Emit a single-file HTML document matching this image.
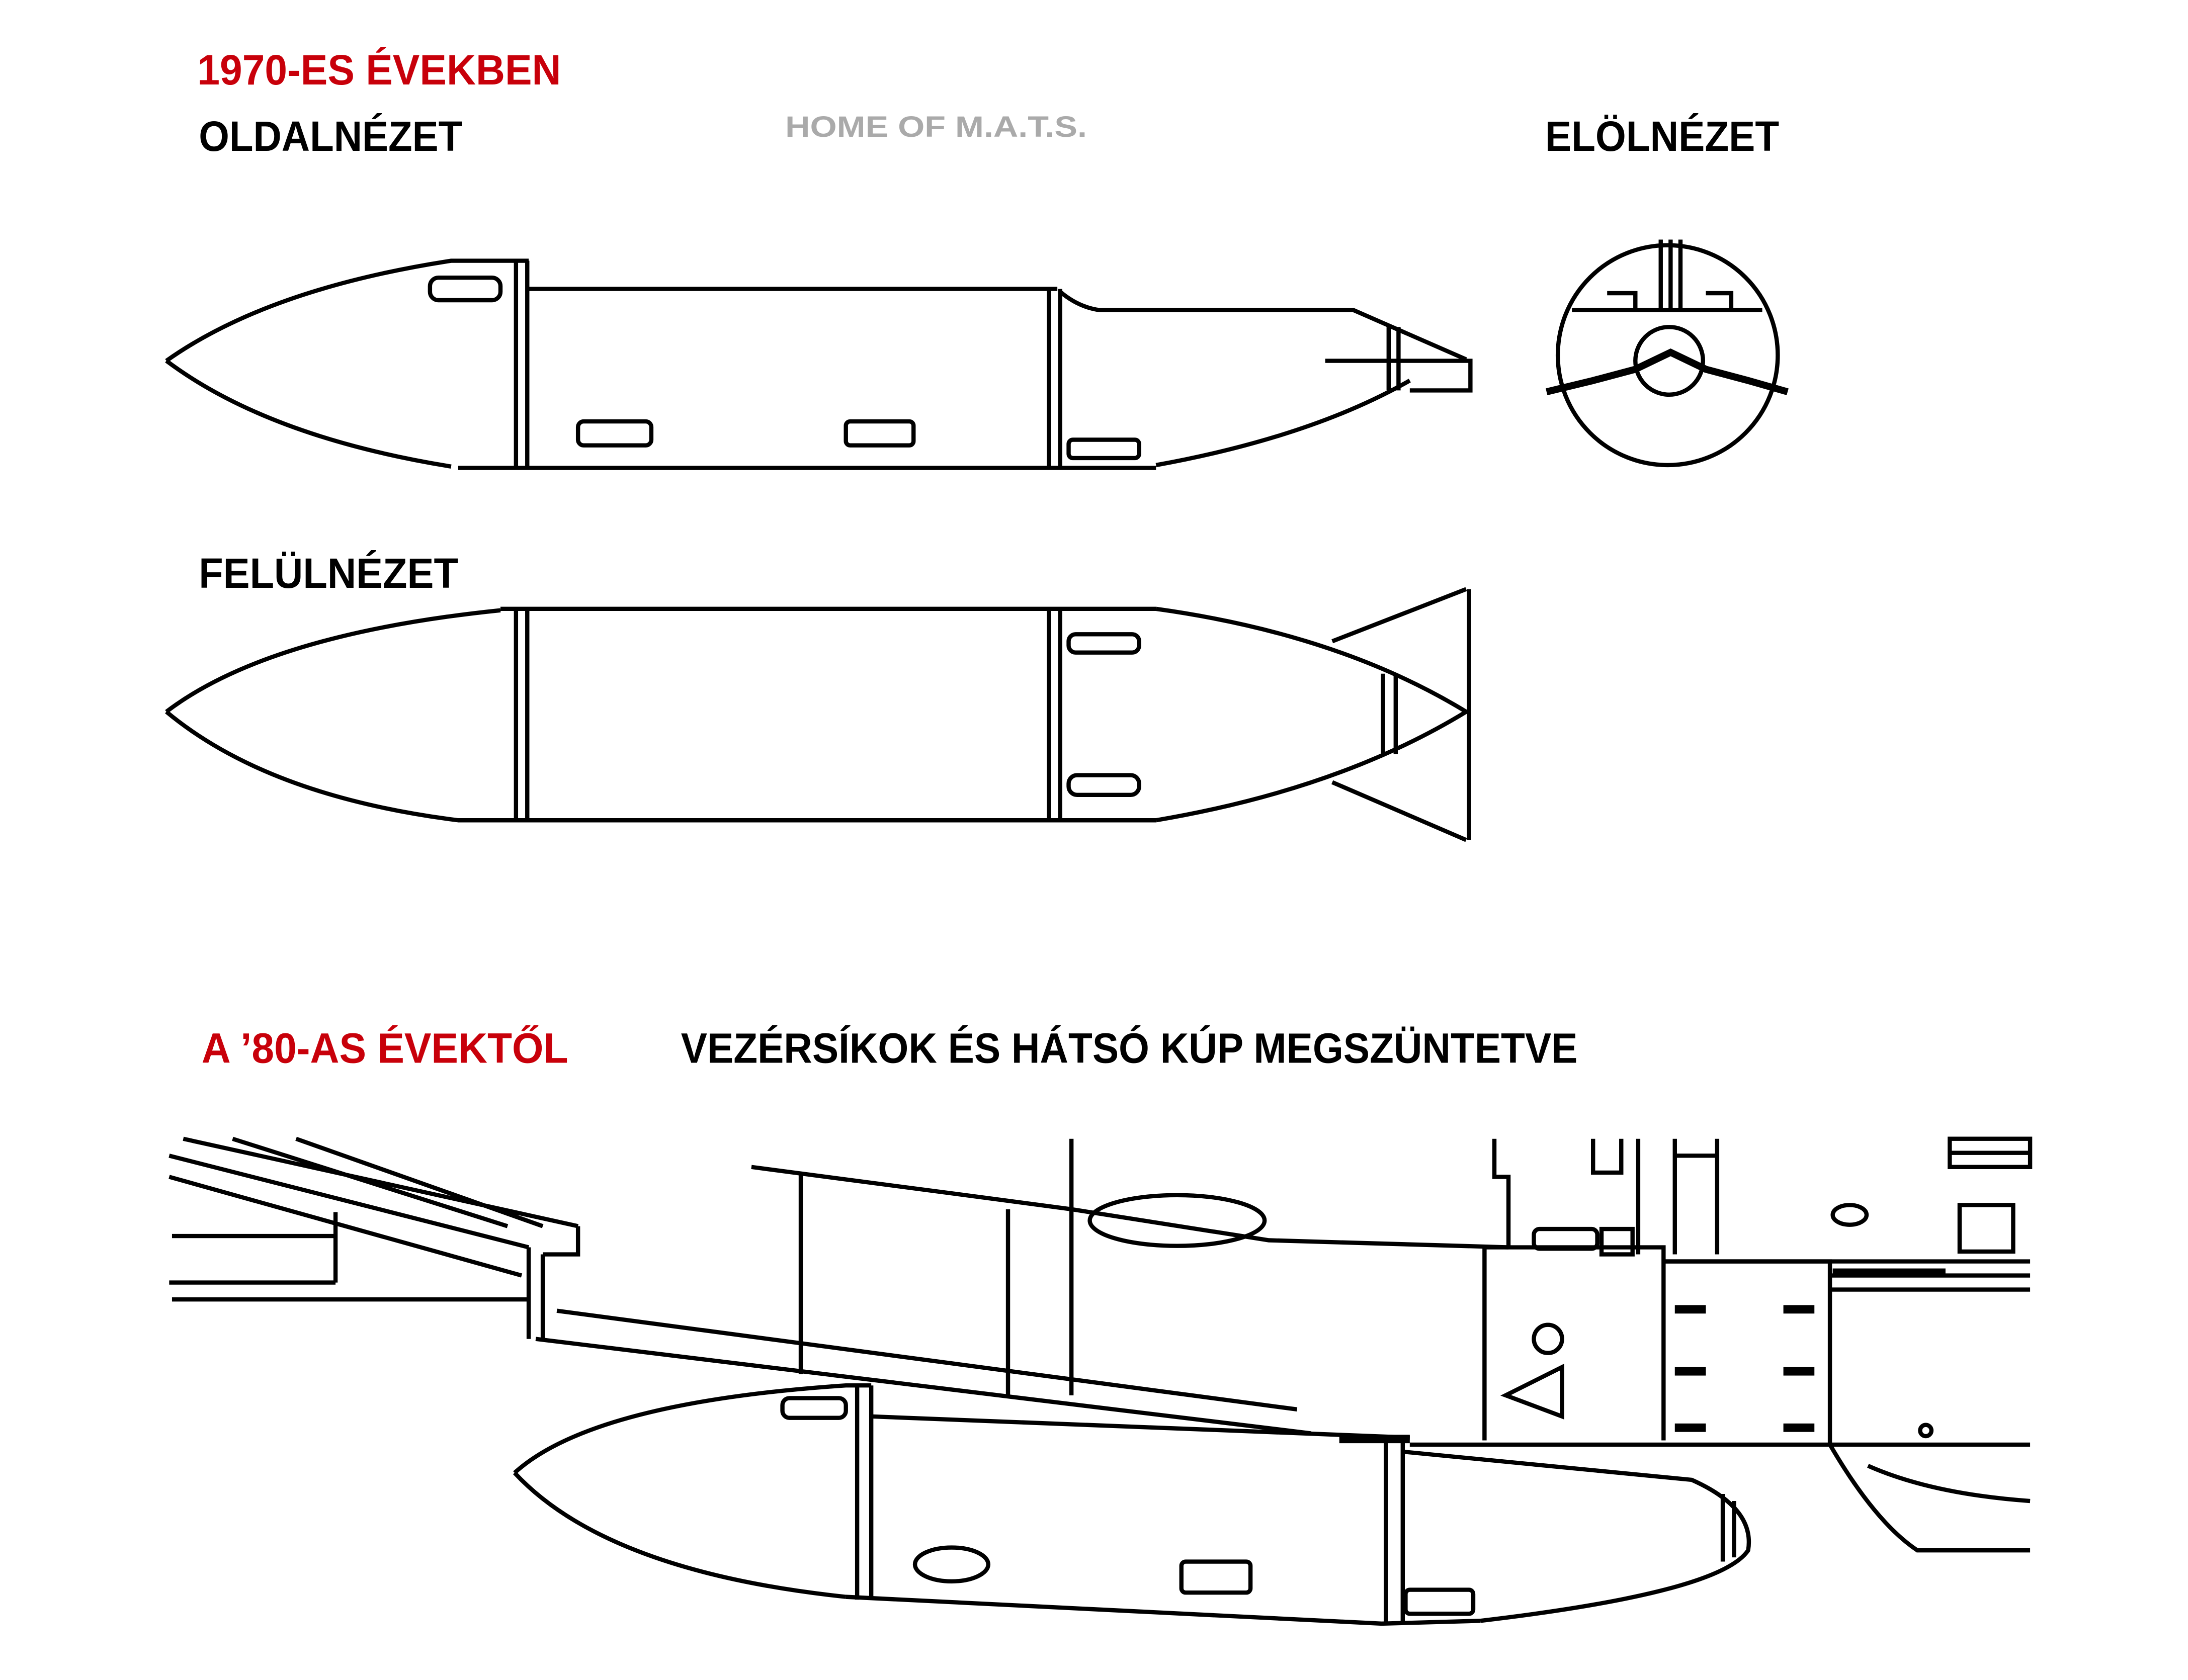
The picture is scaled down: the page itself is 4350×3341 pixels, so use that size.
<!DOCTYPE html>
<html><head><meta charset="utf-8"><style>
html,body{margin:0;padding:0;background:#fff;}
svg{display:block;}
text{font-family:"Liberation Sans",sans-serif;font-weight:bold;}
</style></head><body>
<svg width="4350" height="3341" viewBox="0 0 1552 1192" xmlns="http://www.w3.org/2000/svg">
<rect width="1552" height="1192" fill="#fff"/>
<g font-size="30">
<text x="140" y="60" fill="#c8000a" textLength="258" lengthAdjust="spacingAndGlyphs">1970-ES ÉVEKBEN</text>
<text x="141" y="107" fill="#000" textLength="187" lengthAdjust="spacingAndGlyphs">OLDALNÉZET</text>
<text x="1096" y="107" fill="#000" textLength="166" lengthAdjust="spacingAndGlyphs">ELÖLNÉZET</text>
<text x="141" y="417" fill="#000" textLength="184" lengthAdjust="spacingAndGlyphs">FELÜLNÉZET</text>
<text x="143" y="754" fill="#c8000a" textLength="260" lengthAdjust="spacingAndGlyphs">A ’80-AS ÉVEKTŐL</text>
<text x="483" y="754" fill="#000" textLength="636" lengthAdjust="spacingAndGlyphs">VEZÉRSÍKOK ÉS HÁTSÓ KÚP MEGSZÜNTETVE</text>
</g>
<text x="557" y="97" font-size="21" fill="#aaa" textLength="214" lengthAdjust="spacingAndGlyphs">HOME OF M.A.T.S.</text>

<g fill="none" stroke="#000" stroke-width="3">
<!-- side view -->
<path d="M118,256 Q190,205 320,185 L375,185"/>
<path d="M118,256 Q190,310 320,331"/>
<path d="M325,332 L820,332"/>
<path d="M366,185 V332 M374,185 V332"/>
<path d="M375,205 H750"/>
<path d="M744,205 V332 M752,205 V332"/>
<path d="M752,207 Q765,218 780,220 H960 L1040,255"/>
<path d="M820,330 Q930,310 1000,270"/>
<path d="M940,256 H1043 V277 H1000 M985,232 V277 M992,232 V277"/>
<rect x="410" y="299" width="52" height="17" rx="4"/>
<rect x="600" y="299" width="48" height="17" rx="3"/>
<rect x="758" y="312" width="50" height="13" rx="3"/>
<rect x="305" y="197" width="50" height="16" rx="6"/>
<!-- front view -->
<circle cx="1183" cy="252" r="78"/>
<path d="M1178,170 V220 M1185,170 V220 M1192,170 V220 M1115,220 H1250"/>
<path d="M1140,208 H1160 V220 M1210,208 H1228 V220"/>
<circle cx="1184" cy="256" r="24"/>
<path d="M1097,278 L1130,270 L1160,262 L1185,250 L1210,262 L1240,270 L1268,278" stroke-width="5"/>
<!-- top view -->
<path d="M118,505 Q190,450 355,433"/>
<path d="M118,505 Q190,565 325,582"/>
<path d="M355,432 H820 M325,582 H820"/>
<path d="M366,432 V582 M374,432 V582 M744,432 V582 M752,432 V582"/>
<path d="M820,432 Q950,450 1040,505 Q950,560 820,582"/>
<path d="M1042,418 V596 M1040,418 L945,455 M945,555 L1040,596"/>
<path d="M981,478 V535 M990,478 V535"/>
<rect x="758" y="450" width="50" height="13" rx="5"/>
<rect x="758" y="550" width="50" height="14" rx="6"/>
<!-- bottom drawing -->
<path d="M130,808 L410,870 M120,820 L375,885 M165,808 L360,870 M210,808 L385,870 M120,835 L370,905"/>
<path d="M122,877 H238 M238,860 V910 M120,910 H238 M122,922 H375"/>
<path d="M375,885 V950 M385,890 V950 M385,890 H410 V870"/>
<path d="M395,930 L920,1000 M380,950 L930,1017"/>
<path d="M568,832 V975 M715,858 V990 M760,808 V990"/>
<path d="M533,828 L700,850 L760,858 L900,880 L1070,885"/>
<ellipse cx="835" cy="866" rx="62" ry="18"/>
<path d="M1053,885 V1022 M1053,885 H1180 V1022 M1180,895 H1298 V1025 M1000,1025 H1440"/>
<path d="M1180,895 H1440 M1298,905 H1440 M1298,915 H1440"/>
<path d="M1060,808 V835 H1070 V885 M1130,808 V832 H1150 V808 M1162,808 V890 M1188,808 V890 M1218,808 V890 M1188,820 H1218"/>
<rect x="1088" y="872" width="45" height="14" rx="4"/>
<rect x="1136" y="872" width="22" height="18"/>
<rect x="1383" y="808" width="57" height="20"/>
<path d="M1383,818 H1440"/>
<rect x="1390" y="855" width="38" height="33"/>
<ellipse cx="1312" cy="862" rx="12" ry="7"/>
<circle cx="1098" cy="950" r="10"/>
<path d="M1108,970 L1068,990 L1108,1005 Z"/>
<circle cx="1366" cy="1015" r="4"/>
<path d="M365,1045 Q420,995 600,983 L618,983"/>
<path d="M365,1045 Q430,1115 600,1133"/>
<path d="M600,1133 L980,1152 L1050,1150"/>
<path d="M618,1005 L1000,1020"/>
<path d="M608,983 V1135 M618,983 V1135 M983,1022 V1152 M995,1022 V1152"/>
<path d="M995,1030 L1200,1050 Q1245,1070 1240,1100 Q1220,1130 1050,1150"/>
<path d="M1222,1060 V1108 M1230,1065 V1105"/>
<ellipse cx="675" cy="1110" rx="26" ry="12"/>
<rect x="838" y="1108" width="49" height="22" rx="3"/>
<rect x="997" y="1128" width="48" height="17" rx="3"/>
<rect x="555" y="992" width="45" height="14" rx="5"/>
<path d="M1298,1025 Q1330,1080 1360,1100 L1440,1100 M1325,1040 Q1370,1060 1440,1065"/>
</g>
<g fill="#000">
<rect x="1188" y="926" width="22" height="6"/><rect x="1265" y="926" width="22" height="6"/>
<rect x="1188" y="970" width="22" height="6"/><rect x="1265" y="970" width="22" height="6"/>
<rect x="1188" y="1010" width="22" height="6"/><rect x="1265" y="1010" width="22" height="6"/>
<rect x="1300" y="900" width="80" height="6"/>
<rect x="950" y="1018" width="50" height="6"/>
</g>
</svg>
</body></html>
